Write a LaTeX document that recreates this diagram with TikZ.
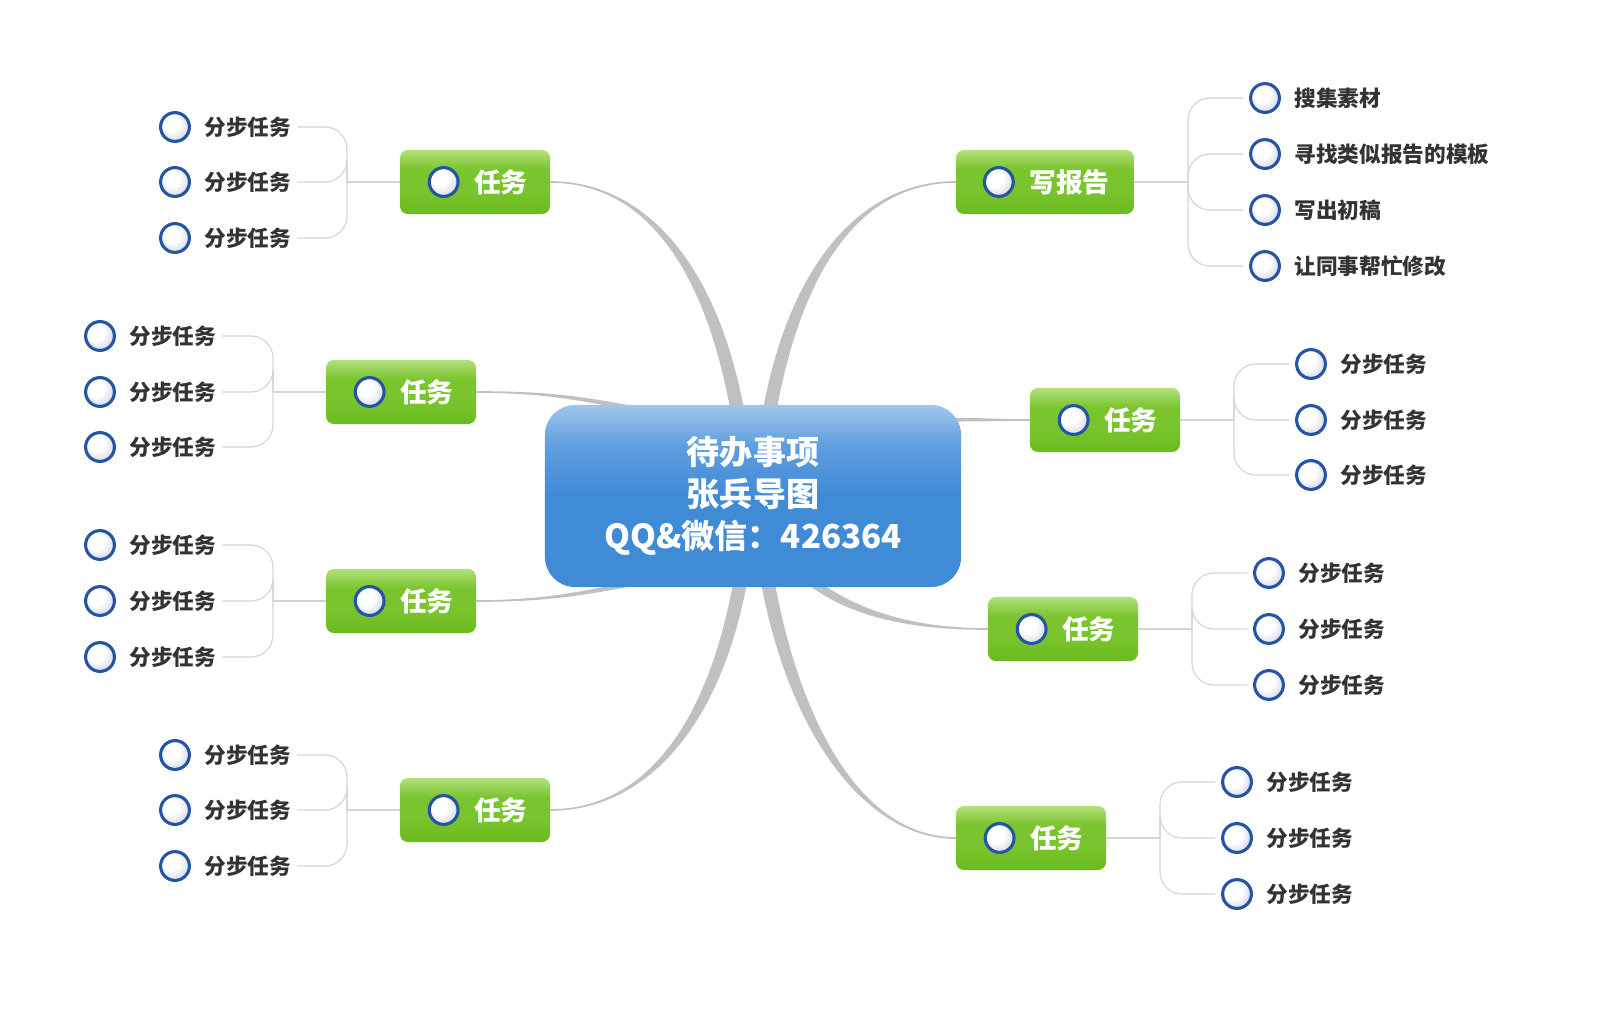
\documentclass[tikz,border=0pt]{standalone}
\usepackage{fontspec}
\setmainfont{Noto Sans CJK SC}
\usetikzlibrary{positioning, calc, backgrounds}

\definecolor{hubtop}{RGB}{160,198,236}
\definecolor{hubmid}{RGB}{96,158,222}
\definecolor{hubblue}{RGB}{64,139,214}
\definecolor{gtop}{RGB}{178,224,124}
\definecolor{gmid}{RGB}{122,197,46}
\definecolor{gbot}{RGB}{106,187,30}
\definecolor{dotblue}{RGB}{36,84,164}
\definecolor{dotgrey}{RGB}{196,202,218}
\definecolor{trunkgrey}{RGB}{192,192,192}
\definecolor{twiggrey}{RGB}{212,212,212}
\definecolor{leafgrey}{RGB}{51,51,51}

% shadings (box fits 25bp..75bp)
\pgfdeclareverticalshading{hubshade}{100bp}{color(0bp)=(hubblue); color(25bp)=(hubblue); color(50bp)=(hubblue); color(64bp)=(hubmid); color(75bp)=(hubtop); color(100bp)=(hubtop)}
\pgfdeclareverticalshading{taskshade}{100bp}{color(0bp)=(gbot); color(25bp)=(gbot); color(45bp)=(gmid); color(60bp)=(gmid); color(75bp)=(gtop); color(100bp)=(gtop)}
\pgfdeclareradialshading{dotshade}{\pgfpoint{-9bp}{9bp}}{color(0bp)=(white); color(14bp)=(white); color(36bp)=(dotgrey); color(50bp)=(dotgrey)}

\begin{document}
\begin{tikzpicture}[x=0.025cm, y=-0.025cm,
  hub/.style={rectangle, rounded corners=0.75cm, shading=hubshade, minimum width=10.4cm, minimum height=4.55cm, text=white, align=center, font=\bfseries\fontsize{23.5}{30}\selectfont},
  task/.style={rectangle, rounded corners=0.2cm, shading=taskshade, minimum height=1.6cm},
  tasktext/.style={text=white, font=\bfseries\fontsize{19}{22}\selectfont, inner sep=1pt},
  dot/.style={circle, draw=dotblue, line width=2.2pt, shading=dotshade, minimum size=0.72cm, inner sep=0pt},
  leaf/.style={text=leafgrey, font=\bfseries\fontsize{15.4}{18}\selectfont, inner sep=1pt},
  trunkline/.style={fill=trunkgrey, draw=trunkgrey, line width=1.2pt},
  twig/.style={draw=twiggrey, line width=0.8pt, rounded corners=0.55cm}]

\useasboundingbox (0,0) rectangle (1600,1011);

% tapered main branch: start, half width, control offsets, end node
\def\trunk#1#2#3#4#5{\filldraw[trunkline] ($#1-#2$) .. controls +#3 and +#4 .. (#5) .. controls +#4 and +#3 .. ($#1+#2$) -- cycle;}

% central topic
\node[hub] (hub) at (753,496) {待办事项\\张兵导图\\QQ\&微信：426364};

% task boxes
\foreach \k/\x/\y in {1/475/182, 3/401/392, 5/401/601, 7/475/810, 4/1105/420, 6/1063/629, 8/1031/838}{
  \node[task, minimum width=3.75cm] (t\k) at (\x,\y) {};
  \node[dot, right=0.7cm of t\k.west] (t\k d) {};
  \node[tasktext, right=0.32cm of t\k d] (t\k x) {任务};
}
\node[task, minimum width=4.45cm] (t2) at (1045,182) {};
\node[dot, right=0.68cm of t2.west] (t2d) {};
\node[tasktext, right=0.32cm of t2d] (t2x) {写报告};

% sub tasks, left side
\foreach \k/\x/\jx/\ya/\yb/\yc in {1/175/347/127/182/238, 3/100/273/336/392/447, 5/100/273/545/601/657, 7/175/347/755/810/866}{
  \coordinate (j\k) at (\jx,\yb);
  \foreach \i/\y in {a/\ya, b/\yb, c/\yc}{
    \node[dot] (d\k\i) at (\x,\y) {};
    \node[leaf, right=0.3cm of d\k\i] (s\k\i) {分步任务};
  }
}

% sub tasks, right side
\foreach \k/\x/\jx/\ya/\yb/\yc in {4/1311/1234/364/420/475, 6/1269/1192/573/629/685, 8/1237/1160/782/838/894}{
  \coordinate (j\k) at (\jx,\yb);
  \foreach \i/\y in {a/\ya, b/\yb, c/\yc}{
    \node[dot] (d\k\i) at (\x,\y) {};
    \node[leaf, right=0.3cm of d\k\i] (s\k\i) {分步任务};
  }
}
\coordinate (j2) at (1188,182);
\foreach \i/\y/\s in {a/98/搜集素材, b/154/寻找类似报告的模板, c/210/写出初稿, d/266/让同事帮忙修改}{
  \node[dot] (d2\i) at (1265,\y) {};
  \node[leaf, right=0.3cm of d2\i] (s2\i) {\s};
}

\begin{scope}[on background layer]
  % main branches
  \coordinate (b1) at ($(hub.north)+(-16,4)$);
  \coordinate (b2) at ($(hub.north)+(17,4)$);
  \coordinate (b3) at ($(hub.north)+(-128,2)$);
  \coordinate (b4) at ($(hub.north east)+(-8,15)$);
  \coordinate (b5) at ($(hub.south)+(-128,-2)$);
  \coordinate (b6) at ($(hub.south)+(62,-3)$);
  \coordinate (b7) at ($(hub.south)+(-13,-4)$);
  \coordinate (b8) at ($(hub.south)+(15,-4)$);
  \trunk{(b1)}{(6,0)}{(-28,-150)}{(90,0)}{t1.east}
  \trunk{(b2)}{(6,0)}{(28,-150)}{(-90,0)}{t2.west}
  \trunk{(b3)}{(0.5,1.5)}{(-45,-8)}{(70,0)}{t3.east}
  \trunk{(b4)}{(0,1)}{(20,0)}{(-20,0)}{t4.west}
  \trunk{(b5)}{(0.5,-1.5)}{(-45,8)}{(70,0)}{t5.east}
  \trunk{(b6)}{(2.5,-2.5)}{(45,32)}{(-70,0)}{t6.west}
  \trunk{(b7)}{(6,0)}{(-28,150)}{(90,0)}{t7.east}
  \trunk{(b8)}{(6,0)}{(28,150)}{(-90,0)}{t8.west}
  % brackets to sub tasks
  \foreach \k in {1,3,5,7}{
    \draw[twig] (t\k.west) -- (j\k);
    \foreach \i in {a,b,c} \draw[twig, shorten >=3pt] (j\k) |- (s\k\i.east);
  }
  \foreach \k in {4,6,8}{
    \draw[twig] (t\k.east) -- (j\k);
    \foreach \i in {a,b,c} \draw[twig, shorten >=4pt] (j\k) |- (d\k\i.west);
  }
  \draw[twig] (t2.east) -- (j2);
  \foreach \i in {a,b,c,d} \draw[twig, shorten >=4pt] (j2) |- (d2\i.west);
\end{scope}

\end{tikzpicture}
\end{document}
